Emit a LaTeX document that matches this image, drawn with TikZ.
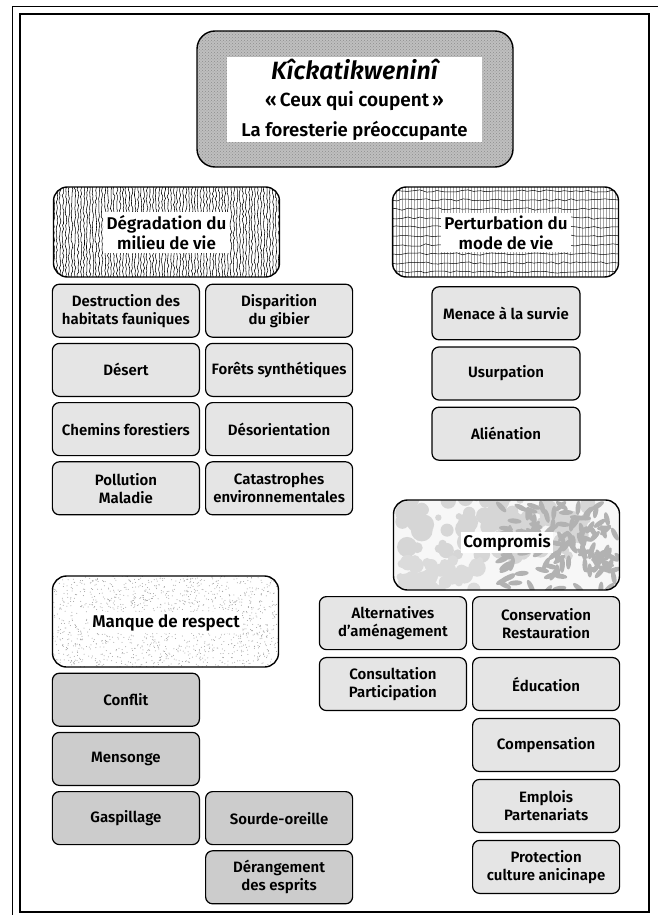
\documentclass[tikz,border=0pt]{standalone}
\usepackage{fontspec}
\setmainfont{Fira Sans}[BoldFont={* SemiBold}, BoldItalicFont={* SemiBold Italic}]
\usetikzlibrary{matrix}
\usetikzlibrary{patterns}
\usetikzlibrary{decorations.pathmorphing}
\definecolor{cellfill}{gray}{0.9}
\definecolor{darkfill}{gray}{0.8}
\tikzset{
    % One small box of the lists
    cell/.style={
        draw, line width=1.2pt, rounded corners=7pt, fill=cellfill,
        minimum width=147pt, minimum height=53pt, inner sep=1pt,
        font=\fontsize{15}{18}\selectfont\bfseries},
%
    % The same, for the lack of respect
    dark cell/.style={cell, fill=darkfill},
%
    % The large textured boxes heading each list (texture drawn beneath)
    theme box/.style={
        draw, line width=1.4pt, rounded corners=14pt,
        minimum width=226pt, minimum height=90pt},
%
    % Clip to the outline of a theme box
    theme clip/.style={rounded corners=14pt},
%
    % White plate carrying the title of a theme box
    theme label/.style={
        fill=white, inner sep=3pt,
        font=\fontsize{17}{20}\selectfont\bfseries}}

\begin{document}
\begin{tikzpicture}[x=1pt, y=-1pt]

\tikzset{every node/.style={align=center}}
\pgfmathsetseed{11}

\useasboundingbox (0,0) rectangle (658,915);
\draw [line width=.7pt] (12,915) -- (12,6) -- (658,6);
\draw [line width=1.6pt] (20,14) rectangle (649,912);

\node (title) [theme box, rounded corners=18pt, minimum width=316pt,
    minimum height=136pt, preaction={fill=gray!50},
    pattern=crosshatch dots, pattern color=gray!90] at (355,99) {};
\node (titletext) [fill=white, minimum width=255pt, minimum height=85pt,
    inner sep=0pt, font=\fontsize{19}{27}\selectfont\bfseries] at (354.5,99.5)
    {{\fontsize{25}{27}\selectfont\itshape Kîckatikweninî}\\
     «\,Ceux qui coupent\,»\\[3pt]
     {\fontsize{18.5}{27}\selectfont La foresterie préoccupante}};

% bark
\begin{scope}
    \clip [theme clip] (53.5,187) rectangle (279.5,277);
    \foreach \bx in {54,57,...,280}
        \draw [line width=.55pt, decorate, decoration={random steps,
            segment length=3pt, amplitude=.9pt}] (\bx,184) -- (\bx,280);
\end{scope}
\node (degr) [theme box] at (166.5,232) {};
\node (degrlabel) [theme label] at (166.5,232.5) {Dégradation du\\milieu de vie};

% weave
\begin{scope}
    \clip [theme clip] (392.5,187) rectangle (618.5,277);
    \foreach \bx in {393,396,...,619}
        \draw [gray!70, line width=.6pt] (\bx,187) -- (\bx,277);
    \foreach \by in {191,200,...,277}
        \draw [line width=.5pt, decorate, decoration={random steps,
            segment length=6pt, amplitude=1.2pt}] (390,\by) -- (621,\by);
\end{scope}
\node (pert) [theme box] at (505.5,232) {};
\node (pertlabel) [theme label] at (506,232.5) {Perturbation du\\mode de vie};

% foliage
\begin{scope}
    \clip [theme clip] (393.5,500) rectangle (619.5,590);
    \fill [gray!6] (393.5,500) rectangle (619.5,590);
    \foreach \k in {1,...,90} {
        \pgfmathsetmacro\lx{400+190*rnd}
        \pgfmathsetmacro\ly{498+60*rnd}
        \pgfmathsetmacro\lr{3+8*rnd}
        \fill [gray!32] (\lx,\ly) circle [radius=\lr];
    }
    \foreach \k in {1,...,40} {
        \pgfmathsetmacro\lx{400+80*rnd}
        \pgfmathsetmacro\ly{560+30*rnd}
        \pgfmathsetmacro\lr{3+6*rnd}
        \fill [gray!28] (\lx,\ly) circle [radius=\lr];
    }
    \foreach \k in {1,...,130} {
        \pgfmathsetmacro\lx{500+120*rnd}
        \pgfmathsetmacro\ly{505+88*rnd}
        \pgfmathsetmacro\la{360*rnd}
        \fill [gray!60, rotate around={\la:(\lx,\ly)}]
            (\lx,\ly) ellipse [x radius=7, y radius=2.5];
    }
\end{scope}
\node (compr) [theme box] at (506.5,545) {};
\node (comprlabel) [theme label, inner sep=2pt] at (507,542.5) {Compromis};

% stipple
\begin{scope}
    \clip [theme clip] (52.5,576) rectangle (278.5,667);
    \foreach \k in {1,...,1500}
        \fill [gray!75] (52+228*rnd,575+93*rnd) circle [radius=.5];
\end{scope}
\node (respect) [theme box, minimum height=91pt] at (165.5,621.5) {};
\node (respectlabel) [theme label, inner sep=2pt] at (166,622.5) {Manque de respect};

\matrix (degrgrid) [row sep=5pt, column sep=5pt] at (202.5,399.5) {
    \node (destruction) [cell] {Destruction des\\habitats fauniques}; &
    \node (gibier) [cell] {Disparition\\du gibier};
\\
    \node (desert) [cell] {Désert}; &
    \node (synthetiques) [cell] {Forêts synthétiques};
\\
    \node (chemins) [cell] {Chemins forestiers}; &
    \node (desorientation) [cell] {Désorientation};
\\
    \node (pollution) [cell] {Pollution\\Maladie}; &
    \node (catastrophes) [cell] {Catastrophes\\environnementales};
\\
};

\matrix (pertgrid) [row sep=6pt] at (506,373.5) {
    \node (menace) [cell, minimum width=148pt] {Menace à la survie};
\\
    \node (usurpation) [cell, minimum width=148pt] {Usurpation};
\\
    \node (alienation) [cell, minimum width=148pt] {Aliénation};
\\
};

\matrix (comprgrid) [row sep=6.75pt, column sep=5pt] at (469.5,745) {
    \node (alternatives) [cell] {Alternatives\\d’aménagement}; &
    \node (conservation) [cell] {Conservation\\Restauration};
\\
    \node (consultation) [cell] {Consultation\\Participation}; &
    \node (education) [cell] {Éducation};
\\
    & \node (compensation) [cell] {Compensation};
\\
    & \node (emplois) [cell] {Emplois\\Partenariats};
\\
    & \node (protection) [cell] {Protection\\culture anicinape};
\\
};

\matrix (respectgrid) [row sep=5pt, column sep=5pt] at (202.5,788.5) {
    \node (conflit) [dark cell] {Conflit}; &
\\
    \node (mensonge) [dark cell] {Mensonge}; &
\\
    \node (gaspillage) [dark cell] {Gaspillage}; &
    \node (sourde) [dark cell] {Sourde-oreille};
\\
    & \node (derangement) [dark cell] {Dérangement\\des esprits};
\\
};

\end{tikzpicture}
\end{document}
